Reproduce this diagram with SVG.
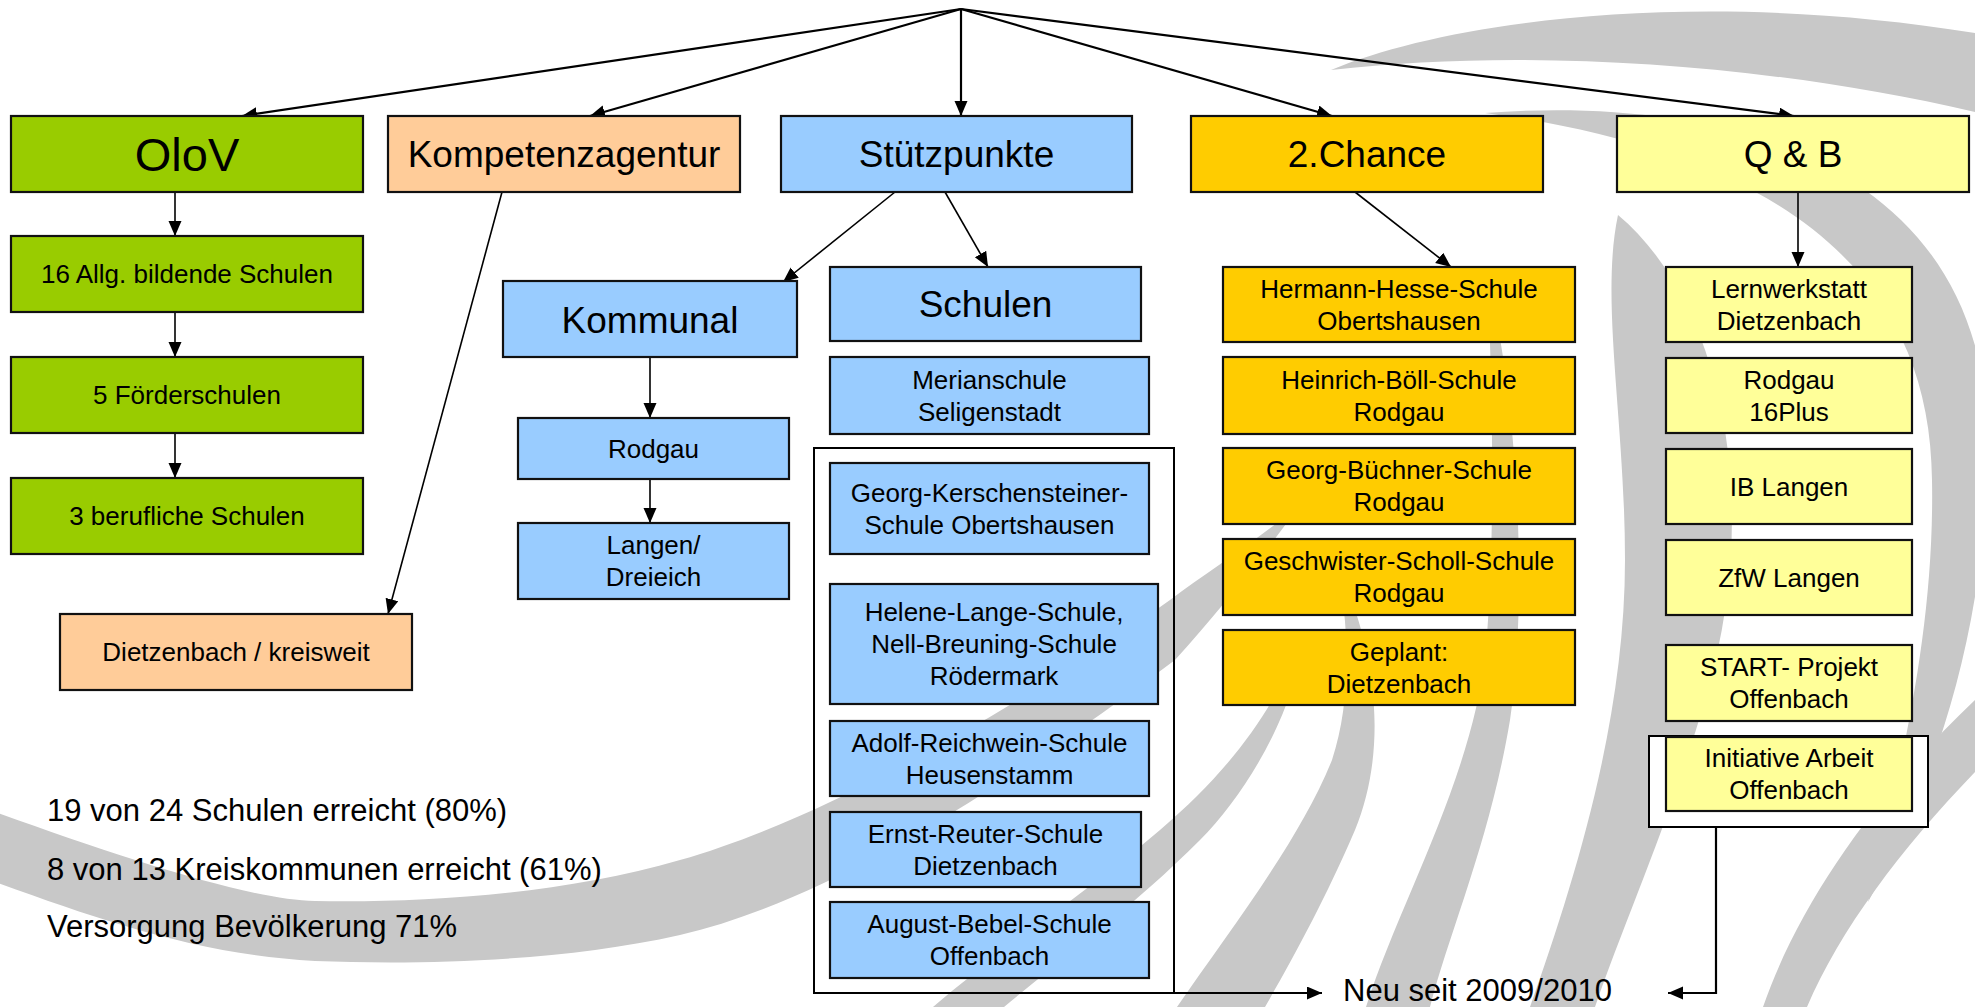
<svg xmlns="http://www.w3.org/2000/svg" width="1975" height="1007" viewBox="0 0 1975 1007">
<defs>
<marker id="ah" markerUnits="userSpaceOnUse" markerWidth="16" markerHeight="14" refX="15" refY="6.5" orient="auto">
<path d="M0,0 L15,6.5 L0,13 Z" fill="#000"/>
</marker>
<style>
.bg{fill:#c8c8c8;stroke:none}
.box{stroke:#111;stroke-width:2.2}
.g{fill:#99cc00}.p{fill:#ffcc99}.b{fill:#99ccff}.o{fill:#ffcc00}.y{fill:#ffff99}
text{font-family:"Liberation Sans",Arial,sans-serif;fill:#000;text-anchor:middle}
.h1{font-size:47px}.h2{font-size:37px}.t{font-size:26px}
.l{font-size:31px;text-anchor:start}
.c1{stroke:#000;stroke-width:2.2;fill:none}
.c2{stroke:#000;stroke-width:1.6;fill:none}
.fr{stroke:#000;stroke-width:2;fill:none}
</style>
</defs>
<rect width="1975" height="1007" fill="#fff"/>
<g id="background">
<path class="bg" d="M1331,70 C1450,20 1700,-12 1975,33 L1975,112 C1760,62 1520,48 1331,70 Z"/>
<path class="bg" d="M1485,113 C1720,95 1990,160 1988,450 C1985,650 1925,800 1868,902 C1895,790 1935,640 1932,480 C1930,260 1760,150 1485,113 Z"/>
<path class="bg" d="M1618,215 C1720,300 1765,500 1705,700 C1670,820 1625,920 1595,1007 L1530,1007 C1575,880 1625,720 1625,560 C1625,420 1600,300 1618,215 Z"/>
<path class="bg" d="M1488,280 C1518,400 1528,600 1510,720 C1490,840 1450,930 1430,1007 L1366,1007 C1400,900 1472,780 1486,650 C1496,520 1492,400 1488,280 Z"/>
<path class="bg" d="M1335,560 C1378,650 1388,750 1355,830 C1325,900 1292,960 1265,1007 L1177,1007 C1230,930 1300,840 1332,760 C1352,700 1350,620 1335,560 Z"/>
<path class="bg" d="M1300,640 C1300,700 1250,790 1200,840 C1130,910 1060,960 1004,1007 L933,1007 C1000,950 1090,890 1160,830 C1230,770 1275,710 1300,640 Z"/>
<path class="bg" d="M1975,700 L1975,772 C1900,850 1840,930 1807,1007 L1763,1007 C1800,900 1880,790 1975,700 Z"/>
<path class="bg" d="M-5,812 C120,857 250,900 315,901 C420,903 560,895 680,860 C820,820 1000,720 1170,600 C1210,570 1250,545 1300,505 C1260,560 1220,610 1175,660 C1000,790 830,900 680,935 C560,962 420,965 315,961 C200,955 100,920 -5,882 Z"/>
</g>
<g id="frames">
<rect id="frame-schulen" class="fr" x="814" y="448" width="360" height="545"/>
<rect id="frame-initiative" x="1649" y="736" width="279" height="91" fill="#fff" stroke="#000" stroke-width="2"/>
</g>
<g id="connectors">
<line class="c1" x1="961" y1="9" x2="242" y2="116" marker-end="url(#ah)"/>
<line class="c1" x1="961" y1="9" x2="590" y2="116" marker-end="url(#ah)"/>
<line class="c1" x1="961" y1="9" x2="961" y2="116" marker-end="url(#ah)"/>
<line class="c1" x1="961" y1="9" x2="1332" y2="116" marker-end="url(#ah)"/>
<line class="c1" x1="961" y1="9" x2="1794" y2="116" marker-end="url(#ah)"/>
<line class="c2" x1="175" y1="192" x2="175" y2="236" marker-end="url(#ah)"/>
<line class="c2" x1="175" y1="312" x2="175" y2="357" marker-end="url(#ah)"/>
<line class="c2" x1="175" y1="433" x2="175" y2="478" marker-end="url(#ah)"/>
<line class="c2" x1="502" y1="192" x2="388" y2="614" marker-end="url(#ah)"/>
<line class="c2" x1="895" y1="192" x2="783" y2="282" marker-end="url(#ah)"/>
<line class="c2" x1="945" y1="192" x2="988" y2="267" marker-end="url(#ah)"/>
<line class="c2" x1="650" y1="357" x2="650" y2="418" marker-end="url(#ah)"/>
<line class="c2" x1="650" y1="479" x2="650" y2="523" marker-end="url(#ah)"/>
<line class="c2" x1="1355" y1="192" x2="1451" y2="267" marker-end="url(#ah)"/>
<line class="c2" x1="1798" y1="192" x2="1798" y2="267" marker-end="url(#ah)"/>
<line class="c1" x1="1174" y1="993" x2="1322" y2="993" marker-end="url(#ah)"/>
<polyline class="c1" points="1716,827 1716,993 1668,993" marker-end="url(#ah)"/>
</g>
<g id="n-olov"><rect class="box g" x="11" y="116" width="352" height="76"/><text class="h1" x="187" y="171">OloV</text></g>
<g id="n-kompetenz"><rect class="box p" x="388" y="116" width="352" height="76"/><text class="h2" x="564" y="167">Kompetenzagentur</text></g>
<g id="n-stuetz"><rect class="box b" x="781" y="116" width="351" height="76"/><text class="h2" x="956.5" y="167">Stützpunkte</text></g>
<g id="n-chance"><rect class="box o" x="1191" y="116" width="352" height="76"/><text class="h2" x="1367" y="167">2.Chance</text></g>
<g id="n-qb"><rect class="box y" x="1617" y="116" width="352" height="76"/><text class="h2" x="1793" y="167">Q &amp; B</text></g>
<g id="n-allg"><rect class="box g" x="11" y="236" width="352" height="76"/><text class="t" x="187" y="283">16 Allg. bildende Schulen</text></g>
<g id="n-foerder"><rect class="box g" x="11" y="357" width="352" height="76"/><text class="t" x="187" y="404">5 Förderschulen</text></g>
<g id="n-beruf"><rect class="box g" x="11" y="478" width="352" height="76"/><text class="t" x="187" y="525">3 berufliche Schulen</text></g>
<g id="n-dietz"><rect class="box p" x="60" y="614" width="352" height="76"/><text class="t" x="236" y="661">Dietzenbach / kreisweit</text></g>
<g id="n-kommunal"><rect class="box b" x="503" y="281" width="294" height="76"/><text class="h2" x="650" y="333">Kommunal</text></g>
<g id="n-rodgau"><rect class="box b" x="518" y="418" width="271" height="61"/><text class="t" x="653.5" y="457.5">Rodgau</text></g>
<g id="n-langen"><rect class="box b" x="518" y="523" width="271" height="76"/><text class="t" x="653.5" y="554">Langen/</text><text class="t" x="653.5" y="586">Dreieich</text></g>
<g id="n-schulen"><rect class="box b" x="830" y="267" width="311" height="74"/><text class="h2" x="985.5" y="317">Schulen</text></g>
<g id="n-merian"><rect class="box b" x="830" y="357" width="319" height="77"/><text class="t" x="989.5" y="388.5">Merianschule</text><text class="t" x="989.5" y="420.5">Seligenstadt</text></g>
<g id="n-gks"><rect class="box b" x="830" y="463" width="319" height="91"/><text class="t" x="989.5" y="501.5">Georg-Kerschensteiner-</text><text class="t" x="989.5" y="533.5">Schule Obertshausen</text></g>
<g id="n-helene"><rect class="box b" x="830" y="584" width="328" height="120"/><text class="t" x="994" y="621">Helene-Lange-Schule,</text><text class="t" x="994" y="653">Nell-Breuning-Schule</text><text class="t" x="994" y="685">Rödermark</text></g>
<g id="n-adolf"><rect class="box b" x="830" y="721" width="319" height="75"/><text class="t" x="989.5" y="751.5">Adolf-Reichwein-Schule</text><text class="t" x="989.5" y="783.5">Heusenstamm</text></g>
<g id="n-ernst"><rect class="box b" x="830" y="812" width="311" height="75"/><text class="t" x="985.5" y="842.5">Ernst-Reuter-Schule</text><text class="t" x="985.5" y="874.5">Dietzenbach</text></g>
<g id="n-august"><rect class="box b" x="830" y="902" width="319" height="76"/><text class="t" x="989.5" y="933">August-Bebel-Schule</text><text class="t" x="989.5" y="965">Offenbach</text></g>
<g id="n-hesse"><rect class="box o" x="1223" y="267" width="352" height="75"/><text class="t" x="1399" y="297.5">Hermann-Hesse-Schule</text><text class="t" x="1399" y="329.5">Obertshausen</text></g>
<g id="n-boell"><rect class="box o" x="1223" y="357" width="352" height="77"/><text class="t" x="1399" y="388.5">Heinrich-Böll-Schule</text><text class="t" x="1399" y="420.5">Rodgau</text></g>
<g id="n-buechner"><rect class="box o" x="1223" y="448" width="352" height="76"/><text class="t" x="1399" y="479">Georg-Büchner-Schule</text><text class="t" x="1399" y="511">Rodgau</text></g>
<g id="n-scholl"><rect class="box o" x="1223" y="539" width="352" height="76"/><text class="t" x="1399" y="570">Geschwister-Scholl-Schule</text><text class="t" x="1399" y="602">Rodgau</text></g>
<g id="n-geplant"><rect class="box o" x="1223" y="630" width="352" height="75"/><text class="t" x="1399" y="660.5">Geplant:</text><text class="t" x="1399" y="692.5">Dietzenbach</text></g>
<g id="n-lern"><rect class="box y" x="1666" y="267" width="246" height="75"/><text class="t" x="1789" y="297.5">Lernwerkstatt</text><text class="t" x="1789" y="329.5">Dietzenbach</text></g>
<g id="n-r16"><rect class="box y" x="1666" y="358" width="246" height="75"/><text class="t" x="1789" y="388.5">Rodgau</text><text class="t" x="1789" y="420.5">16Plus</text></g>
<g id="n-ib"><rect class="box y" x="1666" y="449" width="246" height="75"/><text class="t" x="1789" y="495.5">IB Langen</text></g>
<g id="n-zfw"><rect class="box y" x="1666" y="540" width="246" height="75"/><text class="t" x="1789" y="586.5">ZfW Langen</text></g>
<g id="n-start"><rect class="box y" x="1666" y="645" width="246" height="76"/><text class="t" x="1789" y="676">START- Projekt</text><text class="t" x="1789" y="708">Offenbach</text></g>
<g id="n-init"><rect class="box y" x="1666" y="737" width="246" height="74"/><text class="t" x="1789" y="767">Initiative Arbeit</text><text class="t" x="1789" y="799">Offenbach</text></g>
<g id="labels">
<text class="l" x="47" y="821">19 von 24 Schulen erreicht (80%)</text>
<text class="l" x="47" y="880">8 von 13 Kreiskommunen erreicht (61%)</text>
<text class="l" x="47" y="937">Versorgung Bevölkerung 71%</text>
<text class="l" x="1343" y="1001">Neu seit 2009/2010</text>
</g>
</svg>
